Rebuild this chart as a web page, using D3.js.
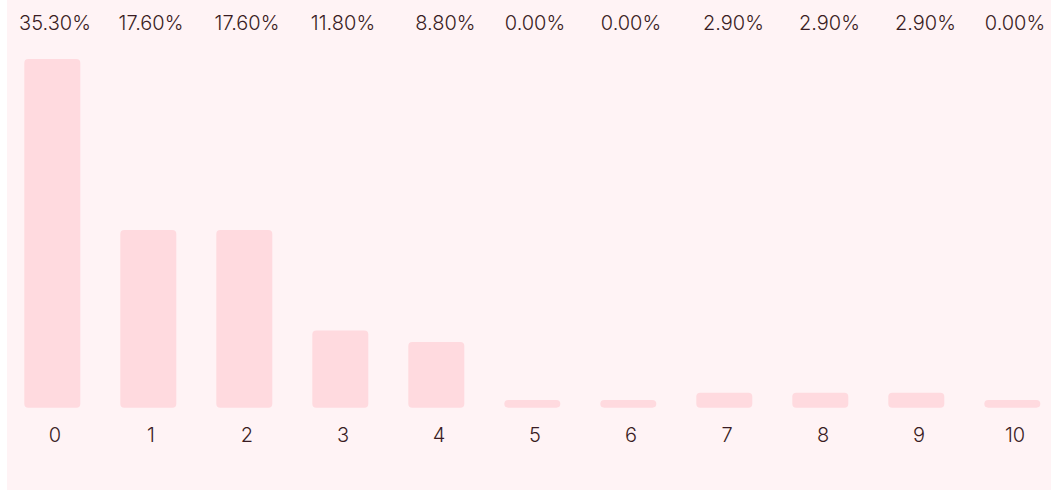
<!DOCTYPE html>
<html>
<head>
<meta charset="utf-8">
<script src="https://cdn.jsdelivr.net/npm/d3@7"></script>
<style>
  html, body { margin: 0; padding: 0; background: #ffffff; }
  svg { display: block; }
  .label { font-family: Inter, "Noto Sans", sans-serif; font-weight: 300; fill: #3a1c23; }
</style>
</head>
<body>
<div id="chart"></div>
<script>
// categories along the bottom
const categories = ['0', '1', '2', '3', '4', '5', '6', '7', '8', '9', '10'];
// percentage labels printed above each column (figure space pads the short ones like the original)
const percentLabels = ['35.30%', '17.60%', '17.60%', '11.80%', '\u20078.80%', '0.00%', '0.00%', '\u20072.90%', '\u20072.90%', '\u20072.90%', '0.00%'];
// bar heights as drawn (in % units)
const barValues = [35.3, 17.6, 17.6, 7.2, 6.0, 0, 0, 0.75, 0.75, 0.75, 0];

const width = 1051;
const height = 490;
const panel = { left: 7, top: 0 };
const baseline = 407.7;
const minBar = 7.7;

const svg = d3.select('#chart').append('svg')
  .attr('width', width)
  .attr('height', height);

// background panel
svg.append('rect')
  .attr('x', panel.left)
  .attr('y', panel.top)
  .attr('width', width - panel.left)
  .attr('height', height)
  .attr('fill', '#fff3f5');

// scales
const x = d3.scaleBand()
  .domain(categories)
  .range([panel.left, panel.left + 96 * categories.length])
  .paddingInner(0)
  .paddingOuter(0);

const y = d3.scaleLinear()
  .domain([0, d3.max(barValues)])
  .range([baseline - minBar, 59]);

const barWidth = 56;
const barShift = -2.7;

// bars
svg.append('g')
  .attr('class', 'bars')
  .selectAll('rect')
  .data(barValues)
  .join('rect')
  .attr('x', (d, i) => x(categories[i]) + x.bandwidth() / 2 - barWidth / 2 + barShift)
  .attr('y', d => y(d))
  .attr('width', barWidth)
  .attr('height', d => baseline - y(d))
  .attr('rx', 4)
  .attr('ry', 4)
  .attr('fill', '#ffdadf');

// percentage labels on top
svg.append('g')
  .selectAll('text')
  .data(percentLabels)
  .join('text')
  .attr('class', 'label')
  .attr('x', (d, i) => x(categories[i]) + x.bandwidth() / 2)
  .attr('y', 30)
  .attr('text-anchor', 'middle')
  .style('font-size', '20px')
  .style('white-space', 'pre')
  .text(d => d);

// category axis labels
const xAxis = svg.append('g')
  .attr('transform', `translate(0, ${baseline})`)
  .call(d3.axisBottom(x).tickSize(0).tickPadding(0));

xAxis.select('.domain').remove();
xAxis.selectAll('text')
  .attr('class', 'label')
  .attr('dy', null)
  .attr('y', 34)
  .style('font-size', '20px');
</script>
</body>
</html>
